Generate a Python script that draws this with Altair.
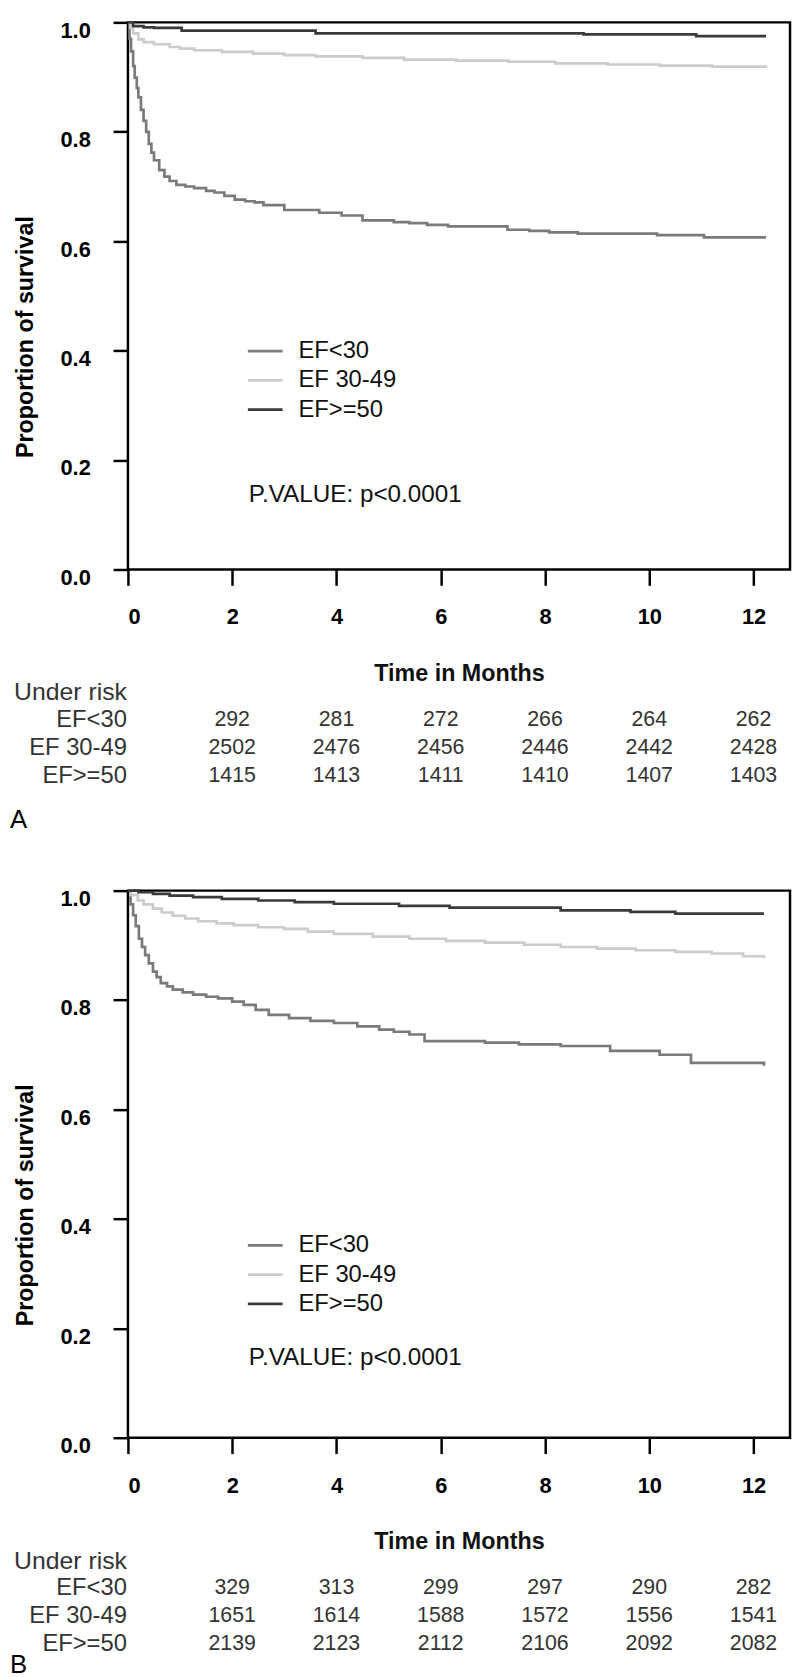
import altair as alt
import pandas as pd

FONT = "Liberation Sans"

groups = ["EF<30", "EF 30-49", "EF>=50"]
colors = ["#7a7a7a", "#cccccc", "#3a3a3a"]
tick_months = [0, 2, 4, 6, 8, 10, 12]
risk_months = [2, 4, 6, 8, 10, 12]
y_ticks = [0.0, 0.2, 0.4, 0.6, 0.8, 1.0]

# ---------- Panel A ----------
a_lt30_t = [0, 0.03, 0.06, 0.1, 0.13, 0.17, 0.2, 0.25, 0.3, 0.35, 0.4, 0.45, 0.5, 0.6, 0.7, 0.8, 0.93, 1.1,
            1.27, 1.5, 1.66, 1.85, 2.05, 2.25, 2.43, 2.6, 3.0, 3.67, 4.1, 4.5, 5.1, 5.4, 5.74, 6.14, 7.28,
            7.7, 8.08, 8.63, 10.15, 11.05, 12.24]
a_lt30_s = [1.0, 0.97, 0.947, 0.92, 0.899, 0.88, 0.863, 0.84, 0.82, 0.80, 0.778, 0.762, 0.748, 0.73, 0.718,
            0.71, 0.703, 0.70, 0.697, 0.692, 0.689, 0.683, 0.676, 0.673, 0.671, 0.666, 0.657, 0.652, 0.647,
            0.638, 0.635, 0.633, 0.630, 0.627, 0.621, 0.619, 0.616, 0.614, 0.611, 0.607, 0.607]
a_mid_t = [0, 0.05, 0.1, 0.2, 0.3, 0.5, 0.8, 1.0, 1.27, 1.8, 2.4, 3.0, 3.6, 4.5, 5.3, 6.3, 7.3, 8.2, 9.2,
           10.2, 11.2, 12.24]
a_mid_s = [1.0, 0.99, 0.98, 0.969, 0.964, 0.96, 0.955, 0.952, 0.949, 0.946, 0.943, 0.940, 0.938, 0.935,
           0.932, 0.930, 0.928, 0.925, 0.923, 0.921, 0.919, 0.917]
a_ge50_t = [0, 0.1, 0.3, 0.5, 1.03, 3.6, 8.74, 10.9, 12.24]
a_ge50_s = [1.0, 0.993, 0.991, 0.99, 0.985, 0.980, 0.978, 0.975, 0.975]

a_risk_lt30 = [292, 281, 272, 266, 264, 262]
a_risk_mid = [2502, 2476, 2456, 2446, 2442, 2428]
a_risk_ge50 = [1415, 1413, 1411, 1410, 1407, 1403]

# ---------- Panel B ----------
b_lt30_t = [0, 0.05, 0.1, 0.15, 0.21, 0.27, 0.33, 0.4, 0.48, 0.55, 0.63, 0.75, 0.86, 1.05, 1.25, 1.5, 1.73,
            2.0, 2.22, 2.45, 2.7, 3.09, 3.5, 3.95, 4.4, 4.82, 5.1, 5.4, 5.69, 6.85, 7.5, 8.3, 9.25, 10.2,
            10.8, 12.2]
b_lt30_s = [1.0, 0.975, 0.955, 0.935, 0.912, 0.897, 0.882, 0.867, 0.852, 0.842, 0.831, 0.825, 0.819, 0.814,
            0.81, 0.806, 0.803, 0.797, 0.791, 0.782, 0.773, 0.767, 0.762, 0.758, 0.752, 0.746, 0.742, 0.737,
            0.725, 0.722, 0.719, 0.716, 0.707, 0.700, 0.685, 0.680]
b_mid_t = [0, 0.05, 0.19, 0.3, 0.48, 0.65, 0.86, 1.1, 1.35, 1.7, 2.03, 2.5, 2.99, 3.45, 3.95, 4.7, 5.4,
           6.1, 6.85, 7.6, 8.3, 9.0, 9.74, 10.5, 11.2, 11.8, 12.2]
b_mid_s = [1.0, 0.992, 0.982, 0.975, 0.967, 0.96, 0.954, 0.949, 0.944, 0.94, 0.937, 0.933, 0.930, 0.925,
           0.921, 0.916, 0.912, 0.908, 0.905, 0.901, 0.897, 0.894, 0.891, 0.888, 0.885, 0.88, 0.877]
b_ge50_t = [0, 0.2, 0.48, 0.8, 1.25, 1.8, 2.5, 3.2, 3.95, 5.2, 6.17, 8.3, 9.64, 10.5, 12.2]
b_ge50_s = [1.0, 0.997, 0.994, 0.991, 0.988, 0.985, 0.982, 0.979, 0.976, 0.972, 0.969, 0.964, 0.961,
            0.958, 0.958]

b_risk_lt30 = [329, 313, 299, 297, 290, 282]
b_risk_mid = [1651, 1614, 1588, 1572, 1556, 1541]
b_risk_ge50 = [2139, 2123, 2112, 2106, 2092, 2082]

W, H = 668, 552


def panel(curves, risks, letter, letter_y, legend_y0, pval_y):
    rows = []
    for g, (ts, ss) in zip(groups, curves):
        for t, s in zip(ts, ss):
            rows.append({"t": t, "s": s, "group": g})
    df = pd.DataFrame(rows)

    xenc = alt.X("t:Q", scale=alt.Scale(domain=[0, 12.7], nice=False, zero=False),
                 axis=alt.Axis(values=tick_months, format="d", labelFont=FONT, labelFontSize=22,
                               labelFontWeight="bold", labelColor="black", tickColor="black",
                               tickWidth=2.5, tickSize=16, labelPadding=22, domain=False, grid=False,
                               title="Time in Months", titleFont=FONT, titleFontSize=23.5,
                               titleFontWeight="bold", titleColor="#111", titleX=W / 2, titleY=105,
                               titleBaseline="middle"))
    yenc = alt.Y("s:Q", scale=alt.Scale(domain=[0, 1], nice=False),
                 axis=alt.Axis(values=y_ticks, format=".1f", labelFont=FONT, labelFontSize=22,
                               labelFontWeight="bold", labelColor="black", tickColor="black",
                               tickWidth=2.5, tickSize=15, labelPadding=23, labelOffset=8,
                               domain=False, grid=False, title="Proportion of survival",
                               titleFont=FONT, titleFontSize=23.5, titleFontWeight="bold",
                               titleColor="black", titleX=-103, titleY=317, titleAngle=270,
                               titleAlign="center", titleBaseline="middle"))

    lines = alt.Chart(df).mark_line(interpolate="step-after", strokeWidth=2.7).encode(
        x=xenc, y=yenc,
        color=alt.Color("group:N", scale=alt.Scale(domain=groups, range=colors), legend=None),
    )

    layers = [lines]
    one = pd.DataFrame({"k": [0]})

    # legend
    for i, (g, c) in enumerate(zip(groups, colors)):
        yy = legend_y0 + 29.5 * i
        layers.append(alt.Chart(one).mark_rule(strokeWidth=2.7, color=c).encode(
            x=alt.value(121), x2=alt.value(156), y=alt.value(yy)))
        layers.append(alt.Chart(one).mark_text(text=g, align="left", baseline="middle", font=FONT,
                                               fontSize=24, color="#111").encode(
            x=alt.value(172), y=alt.value(yy)))

    layers.append(alt.Chart(one).mark_text(text="P.VALUE: p<0.0001", align="left", baseline="middle",
                                           font=FONT, fontSize=24.5, color="#111").encode(
        x=alt.value(122), y=alt.value(pval_y)))

    # risk table
    layers.append(alt.Chart(one).mark_text(text="Under risk", align="right", baseline="middle",
                                           font=FONT, fontSize=25, color="#333").encode(
        x=alt.value(-1), y=alt.value(676)))
    for i, (g, vals) in enumerate(zip(groups, risks)):
        yy = 704 + 28 * i
        layers.append(alt.Chart(one).mark_text(text=g, align="right", baseline="middle",
                                               font=FONT, fontSize=24, color="#333").encode(
            x=alt.value(-1), y=alt.value(yy)))
        rdf = pd.DataFrame({"t": risk_months, "n": vals})
        layers.append(alt.Chart(rdf).mark_text(align="center", baseline="middle", font=FONT,
                                               fontSize=21.5, color="#333").encode(
            x=alt.X("t:Q"), y=alt.value(yy), text=alt.Text("n:Q", format="d")))

    layers.append(alt.Chart(one).mark_text(text=letter, align="left", baseline="middle", font=FONT,
                                           fontSize=26, color="black").encode(
        x=alt.value(-119), y=alt.value(letter_y)))

    return alt.layer(*layers).properties(width=W, height=H)


pA = panel([(a_lt30_t, a_lt30_s), (a_mid_t, a_mid_s), (a_ge50_t, a_ge50_s)],
           [a_risk_lt30, a_risk_mid, a_risk_ge50], "A", 805, 331.7, 477)
pB = panel([(b_lt30_t, b_lt30_s), (b_mid_t, b_mid_s), (b_ge50_t, b_ge50_s)],
           [b_risk_lt30, b_risk_mid, b_risk_ge50], "B", 781, 358, 472)

chart = alt.vconcat(pA, pB, spacing=49).configure_view(
    stroke="black", strokeWidth=2.5
).properties(padding={"left": 0, "top": 0, "right": 0, "bottom": 0})

chart.save("out.html", embed_options={"renderer": "svg", "actions": False})
